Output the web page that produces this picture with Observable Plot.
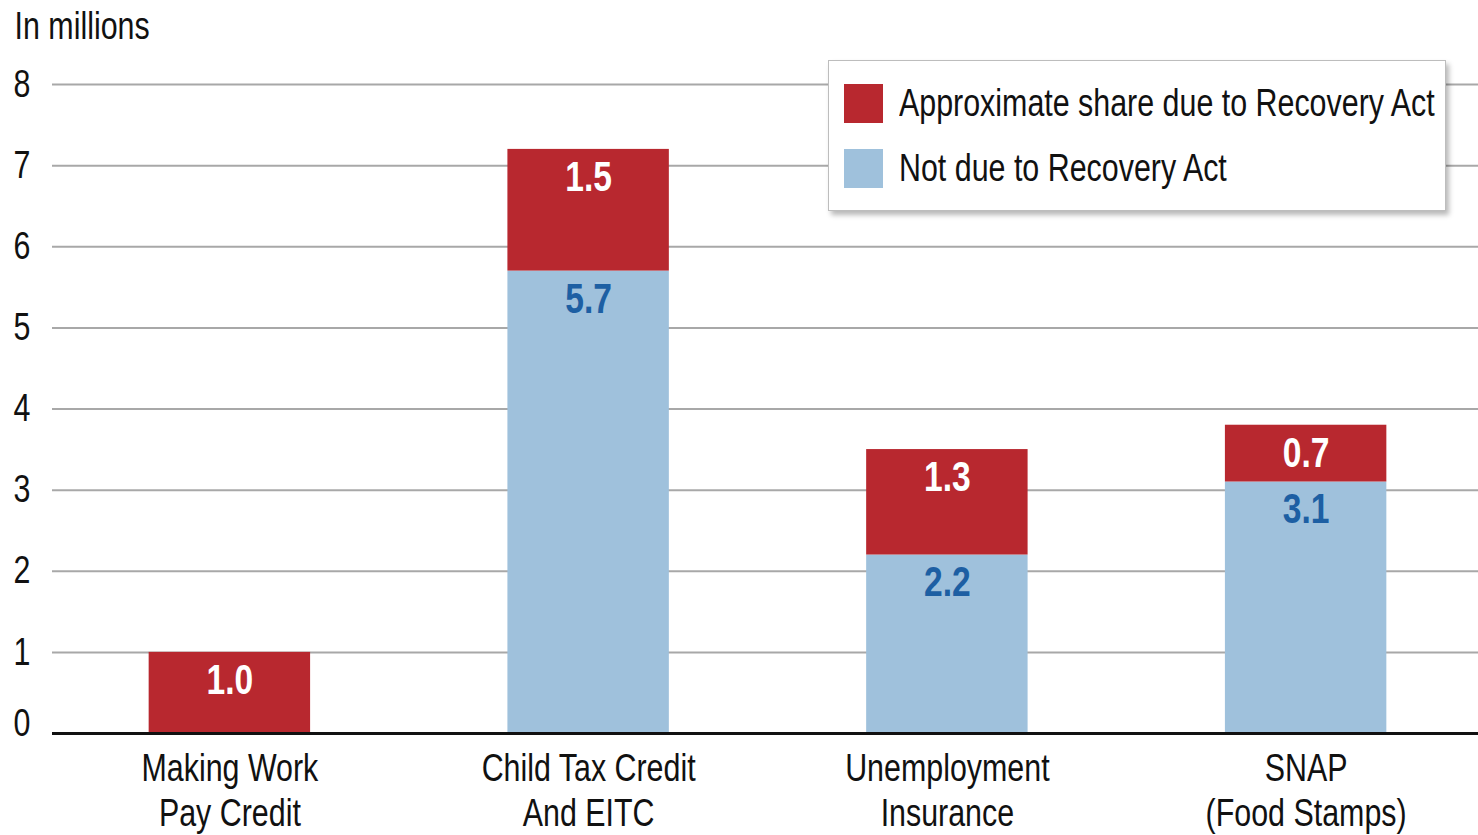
<!DOCTYPE html>
<html>
<head>
<meta charset="utf-8">
<script src="https://cdn.jsdelivr.net/npm/d3@7"></script>
<script src="https://cdn.jsdelivr.net/npm/@observablehq/plot@0.6"></script>
<style>
  html, body { margin: 0; padding: 0; background: #fff; }
  #wrap { position: relative; width: 1478px; height: 835px; overflow: hidden; font-family: "Liberation Sans", Arial, sans-serif; }
  #legend { position: absolute; left: 828px; top: 60px; width: 618px; height: 151px; background: #fff; border: 1px solid #bdbdbd; box-shadow: 3px 4px 5px rgba(0,0,0,0.28); box-sizing: border-box; }
  .sw { position: absolute; left: 15px; width: 39px; height: 39px; }
  .lt { position: absolute; left: 70px; font-size: 38px; line-height: 40px; color: #111; white-space: nowrap; transform: scaleX(0.8); transform-origin: left center; }
</style>
</head>
<body>
<div id="wrap"></div>
<script>
const categories = ["Making Work\nPay Credit", "Child Tax Credit\nAnd EITC", "Unemployment\nInsurance", "SNAP\n(Food Stamps)"];
const seriesNames = ["Not due to Recovery Act", "Approximate share due to Recovery Act"];
const notDue = [0, 5.7, 2.2, 3.1];
const recoveryShare = [1.0, 1.5, 1.3, 0.7];
const yTicks = [0, 1, 2, 3, 4, 5, 6, 7, 8];
const colors = ["#9fc1dc", "#b8282f"];
const labelColors = ["#1d5fa3", "#ffffff"];

const rows = [];
categories.forEach((c, i) => {
  rows.push({category: c, series: seriesNames[0], value: notDue[i]});
  rows.push({category: c, series: seriesNames[1], value: recoveryShare[i]});
});

const font = '"Liberation Sans", Arial, sans-serif';

const chart = Plot.plot({
  width: 1478,
  height: 835,
  marginTop: 84,
  marginBottom: 102,
  marginLeft: 52,
  marginRight: 0,
  style: {fontFamily: font, fontSize: "38px", color: "#111", background: "#fff"},
  x: {domain: categories, range: [50, 1485], paddingInner: 0.55, paddingOuter: 0.275, label: null, round: false},
  y: {domain: [0, 8], label: null},
  color: {domain: seriesNames, range: colors},
  marks: [
    Plot.ruleY(yTicks.filter(d => d > 0), {stroke: "#a8a8a8", strokeWidth: 2}),
    Plot.axisY(yTicks.filter(d => d > 0), {tickSize: 0, tickPadding: 22, fontSize: 38, tickFormat: d => d, label: null}),
    Plot.axisY([0], {tickSize: 0, tickPadding: 22, fontSize: 38, tickFormat: d => d, label: null, dy: -10}),
    Plot.barY(rows, Plot.stackY({x: "category", y: "value", fill: "series"})),
    Plot.text(rows.filter(d => d.value > 0), Plot.stackY2({
      x: "category", y: "value",
      text: d => d.value.toFixed(1),
      fill: d => labelColors[seriesNames.indexOf(d.series)],
      dy: 28, fontSize: 42, fontWeight: "bold", textAnchor: "middle"
    })),
    Plot.ruleY([0], {stroke: "#111", strokeWidth: 3}),
    Plot.axisX({tickSize: 0, tickPadding: 15, fontSize: 38, lineHeight: 1.2, label: null}),
    Plot.text(["In millions"], {frameAnchor: "top-left", dx: -38, dy: -72, fontSize: 38, textAnchor: "start", fill: "#111"})
  ]
});

const wrap = document.getElementById("wrap");
wrap.appendChild(chart);

// Condense all chart texts horizontally (narrow typeface look)
const squeeze = 0.8;
chart.querySelectorAll("text").forEach(t => {
  const spans = t.querySelectorAll("tspan");
  const targets = spans.length ? Array.from(spans) : [t];
  targets.forEach(el => {
    const len = el.getComputedTextLength();
    if (len > 0) {
      el.setAttribute("textLength", (len * squeeze).toFixed(1));
      el.setAttribute("lengthAdjust", "spacingAndGlyphs");
    }
  });
});

const legend = document.createElement("div");
legend.id = "legend";
const items = [[1, 23], [0, 88]];
items.forEach(([idx, top]) => {
  const sw = document.createElement("div");
  sw.className = "sw";
  sw.style.top = top + "px";
  sw.style.background = colors[idx];
  const t = document.createElement("div");
  t.className = "lt";
  t.style.top = (top - 1) + "px";
  t.textContent = seriesNames[idx];
  legend.appendChild(sw);
  legend.appendChild(t);
});
wrap.appendChild(legend);
</script>
</body>
</html>
